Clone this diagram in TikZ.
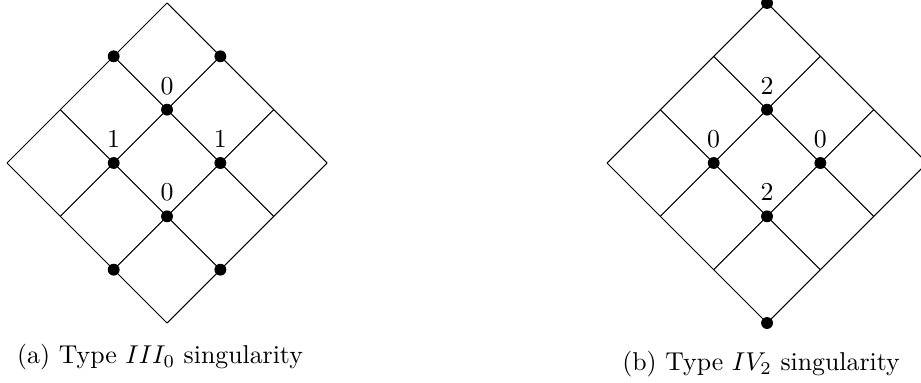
\documentclass[tikz,border=0pt]{standalone}
\usepackage{amsmath}
\usetikzlibrary{positioning}
\tikzset{
gridpt/.style={
  circle,
  fill,
  inner sep=0pt,
  minimum size=4.6pt
  },
rotgrid/.style={
  x={(-0.7265cm,-0.7265cm)},
  y={(0.7265cm,-0.7265cm)}
  }
}

\begin{document}
\begin{tikzpicture}
\useasboundingbox (0,0) rectangle (12.544,-5.203);

\begin{scope}[shift={(2.275,-0.0405)}, rotgrid]
\foreach \i in {0,...,3}
  \foreach \j in {0,...,3}
    \coordinate (a\i\j) at (\i,\j);
\foreach \i in {0,...,3}
  {
  \draw (a\i0) -- (a\i3);
  \draw (a0\i) -- (a3\i);
  }
\node[gridpt] at (a10)
  (pa1) {};
\node[gridpt] at (a01)
  (pa2) {};
\node[gridpt, label=above:$0$] at (a11)
  (pa3) {};
\node[gridpt, label=above:$1$] at (a21)
  (pa4) {};
\node[gridpt, label=above:$1$] at (a12)
  (pa5) {};
\node[gridpt, label=above:$0$] at (a22)
  (pa6) {};
\node[gridpt] at (a32)
  (pa7) {};
\node[gridpt] at (a23)
  (pa8) {};
\end{scope}

\begin{scope}[shift={(10.447,-0.0405)}, rotgrid]
\foreach \i in {0,...,3}
  \foreach \j in {0,...,3}
    \coordinate (b\i\j) at (\i,\j);
\foreach \i in {0,...,3}
  {
  \draw (b\i0) -- (b\i3);
  \draw (b0\i) -- (b3\i);
  }
\node[gridpt] at (b00)
  (pb1) {};
\node[gridpt, label=above:$2$] at (b11)
  (pb2) {};
\node[gridpt, label=above:$0$] at (b21)
  (pb3) {};
\node[gridpt, label=above:$0$] at (b12)
  (pb4) {};
\node[gridpt, label=above:$2$] at (b22)
  (pb5) {};
\node[gridpt] at (b33)
  (pb6) {};
\end{scope}

\node at (2.18,-4.863)
  (capa) {(a) Type $III_0$ singularity};
\node at (10.365,-4.958)
  (capb) {(b) Type $IV_2$ singularity};
\end{tikzpicture}
\end{document}
